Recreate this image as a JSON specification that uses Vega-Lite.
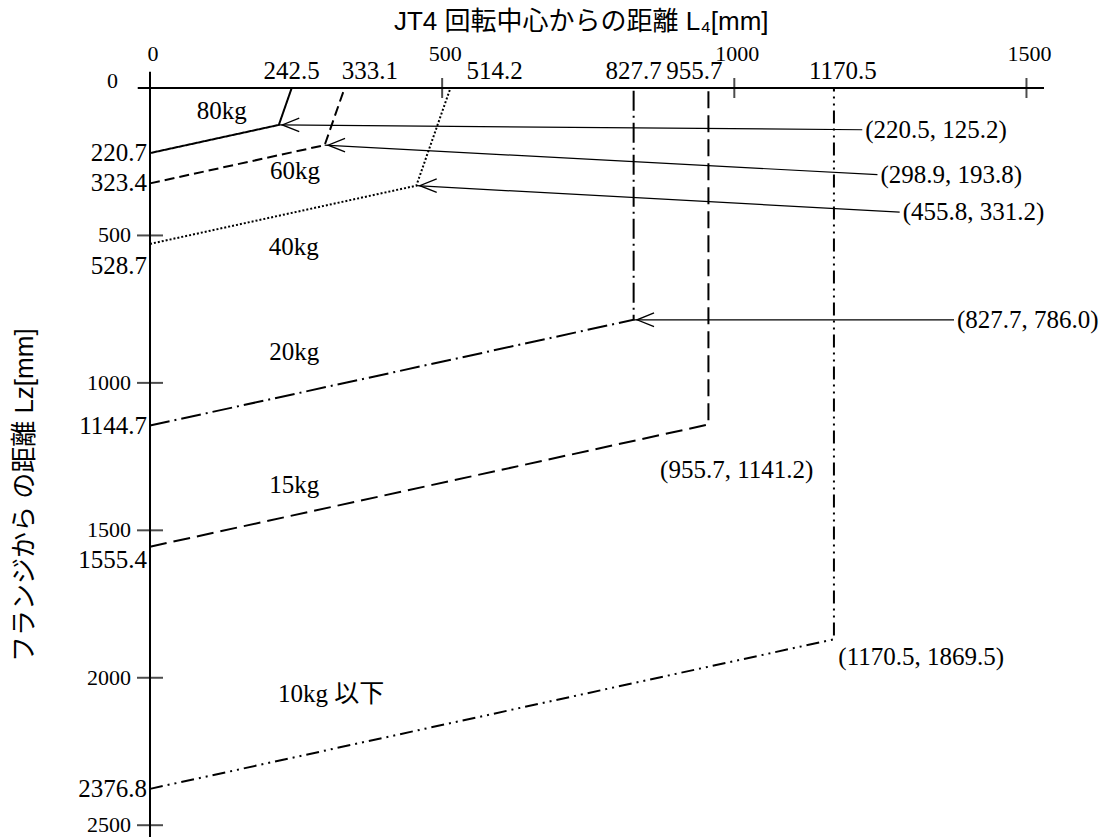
{
  "$schema": "https://vega.github.io/schema/vega-lite/v6.json",
  "autosize": "none",
  "width": 894,
  "height": 749,
  "padding": {"left": 150, "top": 88, "right": 75, "bottom": 2},
  "background": "white",
  "config": {
    "view": {"stroke": null},
    "text": {"font": "Liberation Serif, Noto Sans CJK JP", "color": "black"}
  },
  "datasets": {
    "lines": [
      {"w": "80kg", "i": 0, "x": 0, "y": 220.7},
      {"w": "80kg", "i": 1, "x": 220.5, "y": 125.2},
      {"w": "80kg", "i": 2, "x": 242.5, "y": 0},
      {"w": "60kg", "i": 0, "x": 0, "y": 323.4},
      {"w": "60kg", "i": 1, "x": 298.9, "y": 193.8},
      {"w": "60kg", "i": 2, "x": 333.1, "y": 0},
      {"w": "40kg", "i": 0, "x": 0, "y": 528.7},
      {"w": "40kg", "i": 1, "x": 455.8, "y": 331.2},
      {"w": "40kg", "i": 2, "x": 514.2, "y": 0},
      {"w": "20kg", "i": 0, "x": 0, "y": 1144.7},
      {"w": "20kg", "i": 1, "x": 827.7, "y": 786.0},
      {"w": "20kg", "i": 2, "x": 827.7, "y": 0},
      {"w": "15kg", "i": 0, "x": 0, "y": 1555.4},
      {"w": "15kg", "i": 1, "x": 955.7, "y": 1141.2},
      {"w": "15kg", "i": 2, "x": 955.7, "y": 0},
      {"w": "10kg 以下", "i": 0, "x": 0, "y": 2376.8},
      {"w": "10kg 以下", "i": 1, "x": 1170.5, "y": 1869.5},
      {"w": "10kg 以下", "i": 2, "x": 1170.5, "y": 0}
    ],
    "weights": [
      {"label": "80kg", "x": 123, "y": 77},
      {"label": "60kg", "x": 248, "y": 282},
      {"label": "40kg", "x": 246, "y": 540},
      {"label": "20kg", "x": 247, "y": 894},
      {"label": "15kg", "x": 247, "y": 1346},
      {"label": "10kg 以下", "x": 310, "y": 2055}
    ],
    "arrows": [
      {"label": "(220.5, 125.2)", "px": 220.5, "py": 125.2, "lx": 1219, "ly": 141.5},
      {"label": "(298.9, 193.8)", "px": 298.9, "py": 193.8, "lx": 1245, "ly": 294},
      {"label": "(455.8, 331.2)", "px": 455.8, "py": 331.2, "lx": 1283, "ly": 421},
      {"label": "(827.7, 786.0)", "px": 827.7, "py": 786.0, "lx": 1376, "ly": 786.0}
    ],
    "notes": [
      {"label": "(955.7, 1141.2)", "lx": 873, "ly": 1295},
      {"label": "(1170.5, 1869.5)", "lx": 1178, "ly": 1929}
    ],
    "xspecial": [
      {"v": 242.5, "t": "242.5"},
      {"v": 333.1, "t": "333.1"},
      {"v": 514.2, "t": "514.2"},
      {"v": 827.7, "t": "827.7"},
      {"v": 955.7, "t": "955.7"},
      {"v": 1170.5, "t": "1170.5"}
    ],
    "yspecial": [
      {"v": 220.7, "t": "220.7"},
      {"v": 323.4, "t": "323.4"},
      {"v": 528.7, "t": "528.7"},
      {"v": 1144.7, "t": "1144.7"},
      {"v": 1555.4, "t": "1555.4"},
      {"v": 2376.8, "t": "2376.8"}
    ],
    "xround": [{"v": 0, "t": "0"}, {"v": 500, "t": "500"}, {"v": 1000, "t": "1000"}, {"v": 1500, "t": "1500"}],
    "yround": [{"v": 0, "t": "0"}, {"v": 500, "t": "500"}, {"v": 1000, "t": "1000"}, {"v": 1500, "t": "1500"}, {"v": 2000, "t": "2000"}, {"v": 2500, "t": "2500"}],
    "xticks": [{"v": 500}, {"v": 1000}, {"v": 1500}],
    "yticks": [{"v": 500}, {"v": 1000}, {"v": 1500}, {"v": 2000}, {"v": 2500}],
    "xtitle": [{"t": "JT4 回転中心からの距離 L₄[mm]", "x": 738, "y": -224}],
    "ytitle": [{"t": "フランジから の距離 Lz[mm]", "x": -214, "y": 1381}],
    "one": [{"k": 1}]
  },
  "layer": [
    {
      "data": {"name": "lines"},
      "mark": {"type": "line", "strokeWidth": 2, "color": "black"},
      "encoding": {
        "x": {"field": "x", "type": "quantitative", "title": "JT4 回転中心からの距離 L₄[mm]",
          "scale": {"domain": [0, 1530], "nice": false, "zero": false}, "axis": null},
        "y": {"field": "y", "type": "quantitative", "title": "フランジから の距離 Lz[mm]",
          "scale": {"domain": [0, 2540], "reverse": true, "nice": false, "zero": false}, "axis": null},
        "order": {"field": "i"},
        "detail": {"field": "w"},
        "strokeDash": {"field": "w", "type": "nominal", "legend": null,
          "scale": {"domain": ["80kg", "60kg", "40kg", "20kg", "15kg", "10kg 以下"],
            "range": [[1, 0], [10, 5], [2, 2], [20, 5, 2, 5], [17, 7], [13, 5, 2, 5, 2, 5]]}}
      }
    },
    {
      "data": {"name": "one"},
      "mark": {"type": "rule", "strokeWidth": 2, "color": "black"},
      "encoding": {
        "x": {"datum": -21, "type": "quantitative", "scale": {"domain": [0, 1530], "nice": false, "zero": false}, "axis": null},
        "x2": {"datum": 1530},
        "y": {"datum": 0, "type": "quantitative", "scale": {"domain": [0, 2540], "reverse": true, "nice": false, "zero": false}, "axis": null}
      }
    },
    {
      "data": {"name": "one"},
      "mark": {"type": "rule", "strokeWidth": 2, "color": "black"},
      "encoding": {
        "x": {"datum": 0, "type": "quantitative", "scale": {"domain": [0, 1530], "nice": false, "zero": false}, "axis": null},
        "y": {"datum": -55, "type": "quantitative", "scale": {"domain": [0, 2540], "reverse": true, "nice": false, "zero": false}, "axis": null},
        "y2": {"datum": 2540}
      }
    },
    {
      "data": {"name": "xticks"},
      "mark": {"type": "tick", "orient": "vertical", "size": 20, "thickness": 2, "color": "black"},
      "encoding": {
        "x": {"field": "v", "type": "quantitative", "scale": {"domain": [0, 1530], "nice": false, "zero": false}, "axis": null},
        "y": {"datum": 0, "type": "quantitative", "scale": {"domain": [0, 2540], "reverse": true, "nice": false, "zero": false}, "axis": null}
      }
    },
    {
      "data": {"name": "yticks"},
      "mark": {"type": "tick", "orient": "horizontal", "size": 26, "thickness": 2, "color": "black"},
      "encoding": {
        "x": {"datum": 0, "type": "quantitative", "scale": {"domain": [0, 1530], "nice": false, "zero": false}, "axis": null},
        "y": {"field": "v", "type": "quantitative", "scale": {"domain": [0, 2540], "reverse": true, "nice": false, "zero": false}, "axis": null}
      }
    },
    {
      "data": {"name": "xround"},
      "mark": {"type": "text", "fontSize": 22, "align": "center", "baseline": "alphabetic", "dx": 3, "dy": -27},
      "encoding": {
        "x": {"field": "v", "type": "quantitative", "scale": {"domain": [0, 1530], "nice": false, "zero": false}, "axis": null},
        "y": {"datum": 0, "type": "quantitative", "scale": {"domain": [0, 2540], "reverse": true, "nice": false, "zero": false}, "axis": null},
        "text": {"field": "t"}
      }
    },
    {
      "data": {"name": "yround"},
      "transform": [{"filter": "datum.v > 0"}],
      "mark": {"type": "text", "fontSize": 22, "align": "right", "baseline": "middle", "dx": -19},
      "encoding": {
        "x": {"datum": 0, "type": "quantitative", "scale": {"domain": [0, 1530], "nice": false, "zero": false}, "axis": null},
        "y": {"field": "v", "type": "quantitative", "scale": {"domain": [0, 2540], "reverse": true, "nice": false, "zero": false}, "axis": null},
        "text": {"field": "t"}
      }
    },
    {
      "data": {"name": "yround"},
      "transform": [{"filter": "datum.v == 0"}],
      "mark": {"type": "text", "fontSize": 22, "align": "right", "baseline": "middle", "dx": -32, "dy": -7},
      "encoding": {
        "x": {"datum": 0, "type": "quantitative", "scale": {"domain": [0, 1530], "nice": false, "zero": false}, "axis": null},
        "y": {"field": "v", "type": "quantitative", "scale": {"domain": [0, 2540], "reverse": true, "nice": false, "zero": false}, "axis": null},
        "text": {"field": "t"}
      }
    },
    {
      "data": {"name": "xtitle"},
      "mark": {"type": "text", "font": "Liberation Sans, Noto Sans CJK JP", "fontSize": 26, "align": "center", "baseline": "middle"},
      "encoding": {
        "x": {"field": "x", "type": "quantitative", "scale": {"domain": [0, 1530], "nice": false, "zero": false}, "axis": null},
        "y": {"field": "y", "type": "quantitative", "scale": {"domain": [0, 2540], "reverse": true, "nice": false, "zero": false}, "axis": null},
        "text": {"field": "t"}
      }
    },
    {
      "data": {"name": "ytitle"},
      "mark": {"type": "text", "font": "Liberation Sans, Noto Sans CJK JP", "fontSize": 26, "align": "center", "baseline": "middle", "angle": 270},
      "encoding": {
        "x": {"field": "x", "type": "quantitative", "scale": {"domain": [0, 1530], "nice": false, "zero": false}, "axis": null},
        "y": {"field": "y", "type": "quantitative", "scale": {"domain": [0, 2540], "reverse": true, "nice": false, "zero": false}, "axis": null},
        "text": {"field": "t"}
      }
    },
    {
      "data": {"name": "arrows"},
      "mark": {"type": "rule", "strokeWidth": 1.2, "color": "black"},
      "encoding": {
        "x": {"field": "px", "type": "quantitative", "scale": {"domain": [0, 1530], "nice": false, "zero": false}, "axis": null},
        "y": {"field": "py", "type": "quantitative", "scale": {"domain": [0, 2540], "reverse": true, "nice": false, "zero": false}, "axis": null},
        "x2": {"field": "lx"},
        "y2": {"field": "ly"}
      }
    },
    {
      "data": {"name": "arrows"},
      "mark": {"type": "point", "shape": "M 1.2 -0.4 L 0.2 0 L 1.2 0.4", "size": 1156, "filled": false, "strokeWidth": 1.3, "color": "black", "opacity": 1},
      "encoding": {
        "x": {"field": "px", "type": "quantitative", "scale": {"domain": [0, 1530], "nice": false, "zero": false}, "axis": null},
        "y": {"field": "py", "type": "quantitative", "scale": {"domain": [0, 2540], "reverse": true, "nice": false, "zero": false}, "axis": null}
      }
    },
    {
      "data": {"name": "arrows"},
      "mark": {"type": "text", "fontSize": 25, "align": "left", "baseline": "middle", "dx": 3},
      "encoding": {
        "x": {"field": "lx", "type": "quantitative", "scale": {"domain": [0, 1530], "nice": false, "zero": false}, "axis": null},
        "y": {"field": "ly", "type": "quantitative", "scale": {"domain": [0, 2540], "reverse": true, "nice": false, "zero": false}, "axis": null},
        "text": {"field": "label"}
      }
    },
    {
      "data": {"name": "notes"},
      "mark": {"type": "text", "fontSize": 25, "align": "left", "baseline": "middle"},
      "encoding": {
        "x": {"field": "lx", "type": "quantitative", "scale": {"domain": [0, 1530], "nice": false, "zero": false}, "axis": null},
        "y": {"field": "ly", "type": "quantitative", "scale": {"domain": [0, 2540], "reverse": true, "nice": false, "zero": false}, "axis": null},
        "text": {"field": "label"}
      }
    },
    {
      "data": {"name": "weights"},
      "mark": {"type": "text", "fontSize": 25, "align": "center", "baseline": "middle"},
      "encoding": {
        "x": {"field": "x", "type": "quantitative", "scale": {"domain": [0, 1530], "nice": false, "zero": false}, "axis": null},
        "y": {"field": "y", "type": "quantitative", "scale": {"domain": [0, 2540], "reverse": true, "nice": false, "zero": false}, "axis": null},
        "text": {"field": "label"}
      }
    },
    {
      "data": {"name": "xspecial"},
      "transform": [{"filter": {"field": "v", "oneOf": [242.5, 827.7]}}],
      "mark": {"type": "text", "fontSize": 25, "align": "center", "baseline": "alphabetic", "dy": -9},
      "encoding": {
        "x": {"field": "v", "type": "quantitative", "scale": {"domain": [0, 1530], "nice": false, "zero": false}, "axis": null},
        "y": {"datum": 0, "type": "quantitative", "scale": {"domain": [0, 2540], "reverse": true, "nice": false, "zero": false}, "axis": null},
        "text": {"field": "t"}
      }
    },
    {
      "data": {"name": "xspecial"},
      "transform": [{"filter": {"field": "v", "oneOf": [333.1]}}],
      "mark": {"type": "text", "fontSize": 25, "align": "left", "baseline": "alphabetic", "dx": -3, "dy": -9},
      "encoding": {
        "x": {"field": "v", "type": "quantitative", "scale": {"domain": [0, 1530], "nice": false, "zero": false}, "axis": null},
        "y": {"datum": 0, "type": "quantitative", "scale": {"domain": [0, 2540], "reverse": true, "nice": false, "zero": false}, "axis": null},
        "text": {"field": "t"}
      }
    },
    {
      "data": {"name": "xspecial"},
      "transform": [{"filter": {"field": "v", "oneOf": [514.2]}}],
      "mark": {"type": "text", "fontSize": 25, "align": "left", "baseline": "alphabetic", "dx": 16, "dy": -9},
      "encoding": {
        "x": {"field": "v", "type": "quantitative", "scale": {"domain": [0, 1530], "nice": false, "zero": false}, "axis": null},
        "y": {"datum": 0, "type": "quantitative", "scale": {"domain": [0, 2540], "reverse": true, "nice": false, "zero": false}, "axis": null},
        "text": {"field": "t"}
      }
    },
    {
      "data": {"name": "xspecial"},
      "transform": [{"filter": {"field": "v", "oneOf": [955.7]}}],
      "mark": {"type": "text", "fontSize": 25, "align": "right", "baseline": "alphabetic", "dx": 14, "dy": -9},
      "encoding": {
        "x": {"field": "v", "type": "quantitative", "scale": {"domain": [0, 1530], "nice": false, "zero": false}, "axis": null},
        "y": {"datum": 0, "type": "quantitative", "scale": {"domain": [0, 2540], "reverse": true, "nice": false, "zero": false}, "axis": null},
        "text": {"field": "t"}
      }
    },
    {
      "data": {"name": "xspecial"},
      "transform": [{"filter": {"field": "v", "oneOf": [1170.5]}}],
      "mark": {"type": "text", "fontSize": 25, "align": "left", "baseline": "alphabetic", "dx": -25, "dy": -9},
      "encoding": {
        "x": {"field": "v", "type": "quantitative", "scale": {"domain": [0, 1530], "nice": false, "zero": false}, "axis": null},
        "y": {"datum": 0, "type": "quantitative", "scale": {"domain": [0, 2540], "reverse": true, "nice": false, "zero": false}, "axis": null},
        "text": {"field": "t"}
      }
    },
    {
      "data": {"name": "yspecial"},
      "transform": [{"filter": {"not": {"field": "v", "oneOf": [528.7, 1555.4]}}}],
      "mark": {"type": "text", "fontSize": 25, "align": "right", "baseline": "middle", "dx": -3},
      "encoding": {
        "x": {"datum": 0, "type": "quantitative", "scale": {"domain": [0, 1530], "nice": false, "zero": false}, "axis": null},
        "y": {"field": "v", "type": "quantitative", "scale": {"domain": [0, 2540], "reverse": true, "nice": false, "zero": false}, "axis": null},
        "text": {"field": "t"}
      }
    },
    {
      "data": {"name": "yspecial"},
      "transform": [{"filter": {"field": "v", "oneOf": [528.7]}}],
      "mark": {"type": "text", "fontSize": 25, "align": "right", "baseline": "top", "dx": -3, "dy": 10},
      "encoding": {
        "x": {"datum": 0, "type": "quantitative", "scale": {"domain": [0, 1530], "nice": false, "zero": false}, "axis": null},
        "y": {"field": "v", "type": "quantitative", "scale": {"domain": [0, 2540], "reverse": true, "nice": false, "zero": false}, "axis": null},
        "text": {"field": "t"}
      }
    },
    {
      "data": {"name": "yspecial"},
      "transform": [{"filter": {"field": "v", "oneOf": [1555.4]}}],
      "mark": {"type": "text", "fontSize": 25, "align": "right", "baseline": "top", "dx": -3, "dy": 1},
      "encoding": {
        "x": {"datum": 0, "type": "quantitative", "scale": {"domain": [0, 1530], "nice": false, "zero": false}, "axis": null},
        "y": {"field": "v", "type": "quantitative", "scale": {"domain": [0, 2540], "reverse": true, "nice": false, "zero": false}, "axis": null},
        "text": {"field": "t"}
      }
    }
  ]
}
